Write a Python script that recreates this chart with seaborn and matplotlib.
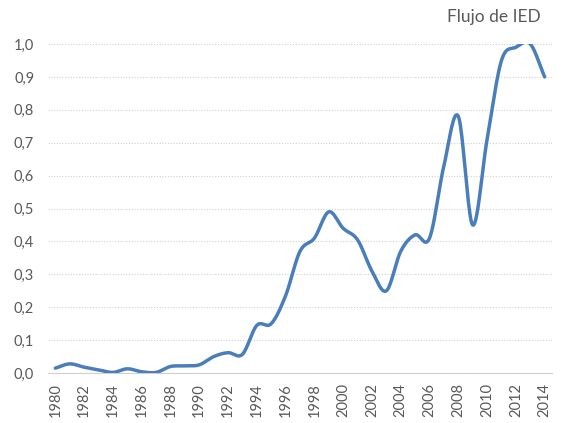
import numpy as np
import pandas as pd
import seaborn as sns
import matplotlib.pyplot as plt
from matplotlib.ticker import FuncFormatter

# datos
years = list(range(1980, 2015))
ied = [0.015, 0.028, 0.018, 0.010, 0.002, 0.013, 0.004, 0.002, 0.020, 0.022,
       0.025, 0.050, 0.062, 0.057, 0.145, 0.150, 0.235, 0.370, 0.410, 0.490,
       0.440, 0.405, 0.310, 0.250, 0.370, 0.420, 0.410, 0.630, 0.780, 0.450,
       0.710, 0.950, 0.990, 1.000, 0.900]
y_ticks = [0.0, 0.1, 0.2, 0.3, 0.4, 0.5, 0.6, 0.7, 0.8, 0.9, 1.0]
title = "Flujo de IED"


def smooth(x, y, n=20):
    # curva suavizada tipo Excel (Catmull-Rom)
    x = np.asarray(x, float)
    y = np.asarray(y, float)
    px = np.concatenate([[2 * x[0] - x[1]], x, [2 * x[-1] - x[-2]]])
    py = np.concatenate([[2 * y[0] - y[1]], y, [2 * y[-1] - y[-2]]])
    xs, ys = [], []
    t = np.linspace(0, 1, n, endpoint=False)
    for i in range(1, len(px) - 2):
        for p, out in ((px, xs), (py, ys)):
            p0, p1, p2, p3 = p[i - 1], p[i], p[i + 1], p[i + 2]
            out.extend(0.5 * (2 * p1 + (-p0 + p2) * t
                              + (2 * p0 - 5 * p1 + 4 * p2 - p3) * t ** 2
                              + (-p0 + 3 * p1 - 3 * p2 + p3) * t ** 3))
    xs.append(x[-1])
    ys.append(y[-1])
    return np.array(xs), np.array(ys)


sns.set_style("white")
plt.rcParams['font.family'] = ['Lato', 'DejaVu Sans']

sx, sy = smooth(years, ied)
df = pd.DataFrame({"year": sx, "ied": sy})

fig = plt.figure(figsize=(5.66, 4.23), dpi=100)
ax = fig.add_axes([0.085, 0.118, 0.89, 0.778])
sns.lineplot(data=df, x="year", y="ied", ax=ax, color="#4a7ebb",
             linewidth=2.5, sort=False, estimator=None)

ax.set_xlim(1979.5, 2014.5)
ax.set_ylim(0, 1.0)
ax.set_xticks(years[::2])
ax.set_xticklabels([str(y) for y in years[::2]], rotation=90)
ax.set_yticks(y_ticks)
ax.yaxis.set_major_formatter(FuncFormatter(lambda v, p: f"{v:.1f}".replace(".", ",")))
ax.tick_params(axis="both", length=0, labelsize=10.5, labelcolor="#595959")
ax.tick_params(axis="y", pad=10)
ax.tick_params(axis="x", pad=7)
ax.set_xlabel("")
ax.set_ylabel("")

ax.grid(axis="y", linestyle=(0, (1, 1.5)), color="#d0d0d0", linewidth=0.8)
ax.set_axisbelow(True)
for s in ["top", "right", "left"]:
    ax.spines[s].set_visible(False)
ax.spines["bottom"].set_color("#d0d0d0")
ax.spines["bottom"].set_linewidth(0.8)
ax.spines["bottom"].set_zorder(0)

fig.text(0.955, 0.96, title, ha="right", va="center", fontsize=12.5, color="#595959")

fig.savefig("out.png", dpi=100)
